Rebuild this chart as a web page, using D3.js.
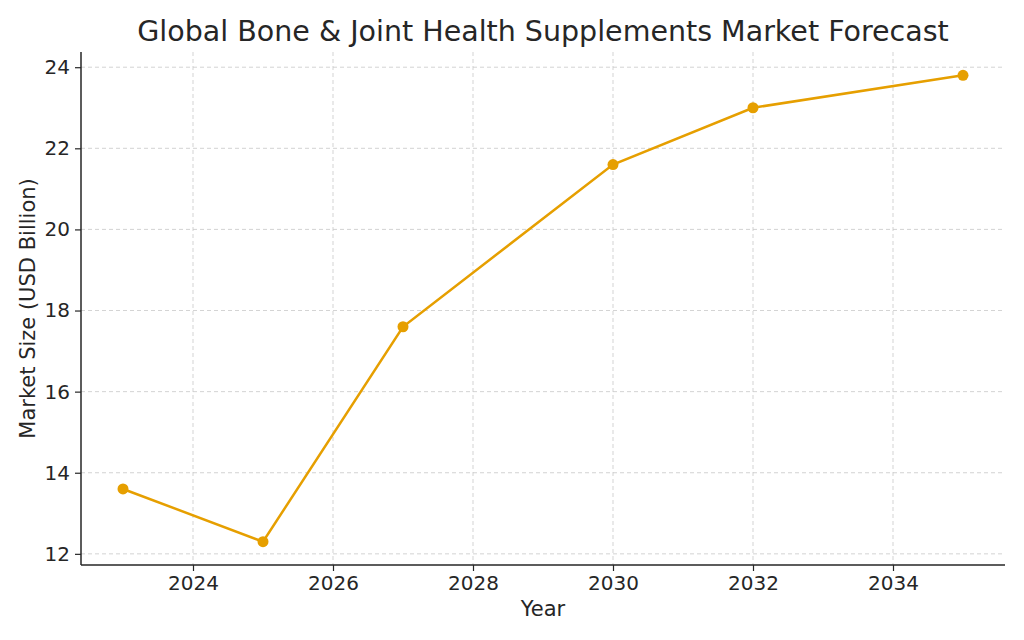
<!DOCTYPE html>
<html>
<head>
<meta charset="utf-8">
<script src="https://cdn.jsdelivr.net/npm/d3@7"></script>
<style>
  body { margin: 0; background: #fff; }
  text { font-family: "DejaVu Sans", sans-serif; fill: #262626; }
</style>
</head>
<body>
<div id="chart"></div>
<script>
// data
const years = [2023, 2025, 2027, 2030, 2032, 2035];
const marketSize = [13.6, 12.3, 17.6, 21.6, 23.0, 23.8];
const xTicks = [2024, 2026, 2028, 2030, 2032, 2034];
const yTicks = [12, 14, 16, 18, 20, 22, 24];

const fullWidth = 1024, fullHeight = 640;
const margin = {top: 52, right: 19, bottom: 75, left: 81};
const width = fullWidth - margin.left - margin.right;
const height = fullHeight - margin.top - margin.bottom;

const svg = d3.select('#chart').append('svg')
  .attr('width', fullWidth)
  .attr('height', fullHeight);

const g = svg.append('g')
  .attr('transform', 'translate(' + margin.left + ',' + margin.top + ')');

// matplotlib-like 5% padding
const x = d3.scaleLinear().domain([2022.4, 2035.6]).range([0, width]);
const y = d3.scaleLinear().domain([11.725, 24.375]).range([height, 0]);

// grid
g.append('g').selectAll('line.vg').data(xTicks).enter().append('line')
  .attr('x1', d => x(d)).attr('x2', d => x(d))
  .attr('y1', 0).attr('y2', height)
  .attr('stroke', '#c8c8c8').attr('stroke-width', 0.8).attr('stroke-dasharray', '4,3');
g.append('g').selectAll('line.hg').data(yTicks).enter().append('line')
  .attr('x1', 0).attr('x2', width)
  .attr('y1', d => y(d)).attr('y2', d => y(d))
  .attr('stroke', '#c8c8c8').attr('stroke-width', 0.8).attr('stroke-dasharray', '4,3');

// axes
const xAxis = d3.axisBottom(x).tickValues(xTicks).tickFormat(d3.format('d')).tickSizeOuter(0).tickSize(6).tickPadding(5);
const yAxis = d3.axisLeft(y).tickValues(yTicks).tickSizeOuter(0).tickSize(6).tickPadding(5);

const gx = g.append('g').attr('transform', 'translate(0,' + height + ')').call(xAxis);
const gy = g.append('g').call(yAxis);
[gx, gy].forEach(a => {
  a.attr('font-family', null);
  a.select('.domain').attr('stroke', '#262626').attr('stroke-width', 1.5);
  a.selectAll('.tick line').attr('stroke', '#262626').attr('stroke-width', 1.2);
  a.selectAll('.tick text').style('font-size', '20px').attr('fill', '#262626');
});
gx.select('.domain').attr('d', 'M0,0H' + width);
gy.select('.domain').attr('d', 'M0,0V' + height);

// line
const line = d3.line().x((d, i) => x(years[i])).y(d => y(d));
g.append('path')
  .datum(marketSize)
  .attr('fill', 'none')
  .attr('stroke', '#E69F00')
  .attr('stroke-width', 2.5)
  .attr('d', line);

g.selectAll('circle.pt').data(marketSize).enter().append('circle')
  .attr('cx', (d, i) => x(years[i]))
  .attr('cy', d => y(d))
  .attr('r', 5.5)
  .attr('fill', '#E69F00');

// labels
svg.append('text')
  .attr('x', margin.left + width / 2).attr('y', 41)
  .attr('text-anchor', 'middle')
  .style('font-size', '28.5px').attr('fill', '#333333')
  .text('Global Bone & Joint Health Supplements Market Forecast');

svg.append('text')
  .attr('x', margin.left + width / 2).attr('y', 616)
  .attr('text-anchor', 'middle')
  .style('font-size', '21px')
  .text('Year');

svg.append('text')
  .attr('transform', 'translate(35,' + (margin.top + height / 2) + ') rotate(-90)')
  .attr('text-anchor', 'middle')
  .style('font-size', '21px')
  .text('Market Size (USD Billion)');
</script>
</body>
</html>
